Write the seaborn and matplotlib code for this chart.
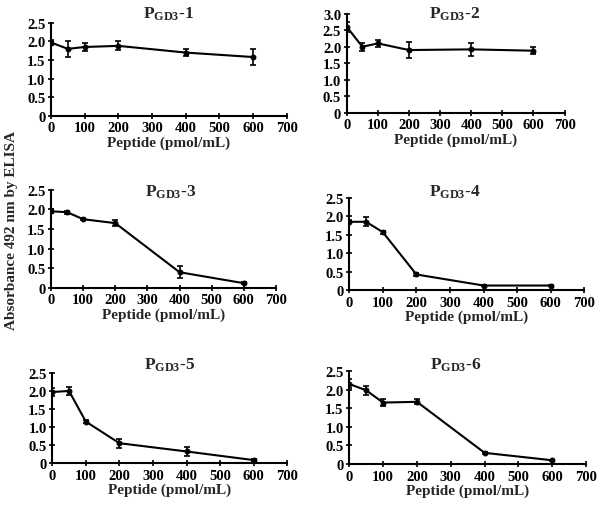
import numpy as np
import matplotlib
matplotlib.use("Agg")
import matplotlib.pyplot as plt
import matplotlib.ticker as mticker
import seaborn as sns

# peptide concentrations (pmol/mL)
peptide = [0, 50, 100, 200, 400, 600]

# absorbance means and error bars for each peptide
abs_1 = [1.97, 1.80, 1.85, 1.88, 1.70, 1.58]
err_1 = [0.08, 0.22, 0.12, 0.12, 0.10, 0.21]
abs_2 = [2.60, 2.00, 2.10, 1.90, 1.92, 1.88]
err_2 = [0.15, 0.12, 0.10, 0.25, 0.20, 0.10]
abs_3 = [1.95, 1.93, 1.75, 1.65, 0.40, 0.12]
err_3 = [0.05, 0.04, 0.03, 0.07, 0.15, 0.03]
abs_4 = [1.85, 1.85, 1.57, 0.42, 0.12, 0.12]
err_4 = [0.04, 0.12, 0.04, 0.03, 0.02, 0.02]
abs_5 = [1.97, 2.00, 1.15, 0.55, 0.32, 0.08]
err_5 = [0.12, 0.12, 0.05, 0.12, 0.13, 0.03]
abs_6 = [2.15, 1.98, 1.65, 1.67, 0.30, 0.10]
err_6 = [0.12, 0.12, 0.10, 0.07, 0.02, 0.02]

titles = ["1", "2", "3", "4", "5", "6"]
y_max = [2.5, 3.0, 2.5, 2.5, 2.5, 2.5]

sns.set_style("ticks")
plt.rcParams["font.family"] = ["Liberation Serif", "DejaVu Serif"]
plt.rcParams["font.weight"] = "bold"
plt.rcParams["mathtext.fontset"] = "custom"
plt.rcParams["mathtext.rm"] = "Liberation Serif:bold"
plt.rcParams["mathtext.it"] = "Liberation Serif:bold"
plt.rcParams["mathtext.bf"] = "Liberation Serif:bold"

fig = plt.figure(figsize=(6, 5.06), dpi=100)

# axes rectangles (fig fraction)
rects = [
    [0.085, 0.769, 0.393, 0.184],
    [0.578, 0.775, 0.363, 0.196],
    [0.085, 0.429, 0.375, 0.194],
    [0.582, 0.425, 0.392, 0.182],
    [0.087, 0.083, 0.392, 0.178],
    [0.582, 0.081, 0.395, 0.184],
]
title_pos = [(0.50, 1.054), (0.495, 0.96), (0.53, 0.94),
             (0.45, 1.02), (0.50, 1.045), (0.45, 1.03)]

series = [(abs_1, err_1), (abs_2, err_2), (abs_3, err_3),
          (abs_4, err_4), (abs_5, err_5), (abs_6, err_6)]

for i, (vals, errs) in enumerate(series):
    ax = fig.add_axes(rects[i])
    sns.lineplot(x=peptide, y=vals, ax=ax, color="black", linewidth=1.5,
                 marker="o", markersize=3.5, markeredgecolor="black")
    ax.errorbar(peptide, vals, yerr=errs, fmt="none", ecolor="black",
                elinewidth=1.2, capsize=2, capthick=1.2)
    ax.set_xlim(0, 700)
    ax.set_ylim(0, y_max[i])
    ax.set_xticks(range(0, 701, 100))
    ax.set_yticks(np.arange(0, y_max[i] + 0.01, 0.5))
    ax.yaxis.set_major_formatter(mticker.FuncFormatter(
        lambda v, p: "0" if v == 0 else f"{v:.1f}"))
    sns.despine(ax=ax)
    for s in ["left", "bottom"]:
        ax.spines[s].set_linewidth(1.5)
        ax.spines[s].set_color("black")
    ax.tick_params(direction="inout", length=4, width=1.2, labelsize=10.5,
                   pad=2, colors="black")
    for lab in ax.get_xticklabels() + ax.get_yticklabels():
        lab.set_fontweight("bold")
    ax.set_xlabel("Peptide (pmol/mL)", fontsize=11, fontweight="bold", labelpad=1)
    ax.text(title_pos[i][0], title_pos[i][1],
            r"P$_{\mathrm{GD3}}$-" + titles[i], transform=ax.transAxes,
            ha="center", va="baseline", fontsize=12.5, fontweight="bold")

fig.text(0.02, 1 - 230 / 506, "Absorbance 492 nm by ELISA", rotation=90,
         ha="center", va="center", fontsize=11, fontweight="bold")

fig.savefig("out.png", dpi=100)
